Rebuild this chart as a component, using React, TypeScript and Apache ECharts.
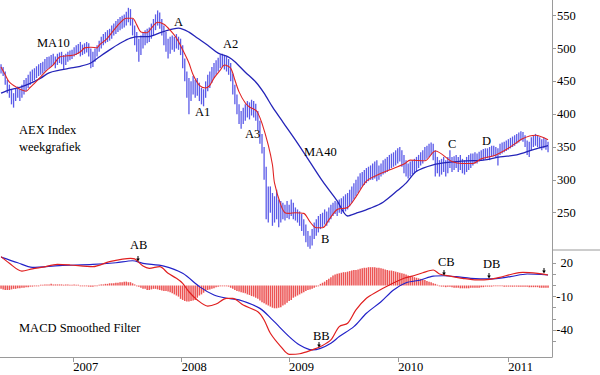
import React, { useEffect, useRef } from 'react';
import * as echarts from 'echarts';

// ---- x axis (weeks, index 0 = end of April 2006) ----
const yearTicks = [34.6, 86.5, 137.9, 190.3, 243.0];
const yearLabels = ['2007', '2008', '2009', '2010', '2011'];

// ---- y axis ticks ----
const priceTicks = [250, 300, 350, 400, 450, 500, 550];
const macdTicks = [20, 10, 0, -10, -20, -30, -40, -50];
const macdLabelTicks = [20, -10, -40];

// ---- weekly AEX bars (low / high) ----
const lows = [
  462, 458, 445, 432, 425, 415, 410, 420, 425, 420,
  425, 430, 435, 440, 445, 450, 452, 455, 458, 460,
  462, 465, 468, 470, 472, 475, 470, 475, 478, 476,
  468, 475, 480, 482, 484, 488, 490, 492, 488, 490,
  492, 494, 488, 470, 472, 480, 488, 495, 500, 505,
  508, 510, 512, 515, 520, 522, 525, 528, 530, 532,
  535, 540, 535, 520, 505, 495, 480, 490, 500, 505,
  508, 510, 515, 520, 528, 535, 530, 520, 505, 495,
  485, 492, 498, 495, 500, 498, 490, 470, 450, 425,
  400, 420, 430, 425, 428, 420, 415, 412, 425, 435,
  440, 448, 455, 460, 465, 470, 472, 468, 465, 460,
  450, 430, 415, 400, 385, 378, 385, 390, 395, 392,
  398, 395, 390, 375, 355, 340, 300, 240, 235, 250,
  230, 235, 240, 228, 235, 240, 238, 242, 240, 245,
  240, 238, 235, 230, 222, 215, 205, 198, 195, 200,
  210, 215, 220, 225, 228, 232, 230, 235, 240, 245,
  248, 245, 250, 248, 250, 252, 255, 260, 265, 270,
  275, 280, 285, 290, 292, 295, 298, 300, 300, 302,
  298, 300, 305, 308, 310, 312, 315, 318, 320, 322,
  325, 328, 320, 310, 305, 302, 305, 308, 310, 312,
  318, 322, 325, 330, 332, 335, 338, 330, 305, 310,
  305, 308, 312, 305, 310, 318, 312, 315, 318, 312,
  315, 310, 308, 312, 315, 318, 322, 325, 325, 328,
  330, 330, 332, 333, 330, 335, 336, 335, 322, 338,
  340, 342, 344, 346, 348, 350, 352, 355, 357, 360,
  358, 350, 338, 335, 345, 350, 352, 350, 348, 345,
  348, 346, 342,
];
const highs = [
  476, 472, 465, 452, 445, 438, 432, 440, 442, 438,
  445, 452, 455, 460, 465, 468, 470, 473, 476, 478,
  480, 484, 487, 488, 490, 492, 488, 492, 494, 495,
  490, 492, 495, 497, 498, 502, 505, 507, 510, 506,
  508, 510, 508, 500, 495, 500, 505, 512, 518, 522,
  525, 528, 530, 535, 538, 542, 545, 548, 550, 552,
  556, 562, 560, 545, 535, 525, 515, 520, 525, 528,
  530, 532, 538, 545, 552, 558, 555, 545, 535, 525,
  515, 518, 520, 518, 522, 518, 515, 505, 485, 465,
  455, 450, 458, 452, 455, 448, 440, 438, 450, 460,
  465, 472, 478, 482, 486, 490, 492, 490, 488, 484,
  478, 462, 445, 430, 415, 405, 410, 415, 420, 418,
  422, 420, 416, 405, 390, 370, 350, 320, 290, 290,
  280, 275, 285, 270, 268, 265, 262, 268, 262, 270,
  265, 258, 255, 252, 248, 240, 232, 222, 215, 225,
  235, 240, 245, 248, 250, 255, 252, 258, 262, 265,
  268, 266, 270, 272, 275, 278, 280, 285, 290, 295,
  300, 305, 310, 312, 315, 318, 320, 322, 325, 328,
  330, 322, 325, 330, 332, 335, 338, 340, 342, 345,
  348, 350, 345, 338, 330, 325, 328, 330, 332, 335,
  338, 342, 345, 350, 352, 355, 357, 355, 345, 335,
  330, 332, 335, 330, 335, 345, 335, 336, 338, 335,
  338, 332, 330, 335, 338, 340, 340, 342, 340, 343,
  345, 347, 348, 348, 350, 352, 352, 350, 348, 355,
  357, 358, 360, 362, 364, 366, 368, 370, 372, 374,
  373, 368, 360, 358, 365, 368, 370, 368, 365, 362,
  364, 362, 358,
];

// ---- moving averages: [week, value] ----
const ma10 = [
  [0, 472], [2, 460], [4, 449], [8, 440], [10, 437], [12, 435], [14, 441], [16, 447],
  [19, 457], [22, 467], [25, 475], [28, 487], [32, 489], [35, 490], [38, 495], [40, 501],
  [43, 502], [46, 501], [47, 505], [51, 516], [54, 528], [57, 539], [60, 546], [63, 546],
  [65, 536], [67, 525], [70, 524], [72, 531], [75, 540], [78, 537], [81, 528], [84, 516],
  [87, 498], [90, 478], [92, 460], [95, 444], [98, 440], [100, 444], [102, 455], [105, 467],
  [107, 475], [110, 470], [112, 452], [114, 434], [117, 417], [119, 411], [122, 406], [123, 402],
  [125, 386], [128, 353], [130, 323], [131, 295], [134, 262], [136, 250], [138, 249], [141, 250],
  [145, 249], [148, 236], [151, 227], [154, 227], [157, 239], [161, 255], [166, 258], [170, 274],
  [175, 298], [180, 307], [186, 315], [193, 324], [196, 330], [203, 329], [208, 344], [216, 328],
  [221, 325], [226, 325], [230, 332], [237, 338], [243, 348], [250, 363], [256, 368], [262, 361],
];
const ma40 = [
  [0, 432], [4, 437], [9, 441], [14, 447], [19, 455], [23, 463], [28, 467], [33, 470],
  [38, 473], [43, 478], [47, 487], [52, 498], [57, 508], [62, 516], [67, 518], [70, 518],
  [77, 525], [85, 531], [90, 525], [94, 516], [99, 505], [104, 493], [109, 487], [112, 480],
  [117, 464], [122, 449], [126, 432], [130, 411], [135, 388], [142, 356], [148, 327], [154, 298],
  [161, 268], [166, 245], [170, 249], [177, 257], [183, 266], [190, 284], [194, 295], [199, 313],
  [207, 323], [215, 327], [223, 329], [231, 330], [239, 335], [247, 338], [255, 346], [262, 352],
];

// ---- MACD smoothed filter ----
const macdLine = [
  [0, 26], [4, 20], [10, 13], [15, 15], [20, 16.6], [27, 19], [33, 18.5], [44, 17],
  [52, 21.5], [62, 24.5], [64, 24], [68, 17.5], [71, 15.5], [76, 17], [80, 11], [84, 6.5],
  [87, 2], [90, -5.6], [94, -13], [99, -18.5], [103, -16.7], [108, -11.5], [111, -11.5], [116, -17.6],
  [123, -23.6], [126, -31], [129, -43], [134, -55], [138, -62], [143, -61.5], [149, -58], [153, -55],
  [158, -49], [162, -37], [166, -34], [170, -22], [175, -11.5], [180, -5.6], [186, 0.5], [193, 6.5],
  [197, 8.5], [202, 11.5], [207, 14], [210, 10.4], [215, 8.5], [221, 6.5], [228, 5], [234, 5.5],
  [239, 7.4], [245, 10.4], [250, 11.9], [257, 11], [262, 9.5],
];
const signalLine = [
  [0, 25.6], [8, 20.5], [15, 16.4], [28, 18], [44, 19], [55, 20.5], [63, 22.3], [68, 20],
  [78, 17.5], [87, 11], [95, -1], [102, -8.6], [108, -11.5], [114, -13], [124, -20.6], [130, -31],
  [138, -46], [143, -53.6], [149, -58], [153, -56.6], [158, -52], [162, -46], [169, -37], [175, -25],
  [182, -14.6], [188, -4], [194, 2.5], [201, 5], [207, 8.5], [212, 8.8], [218, 8], [225, 6.5],
  [234, 5.9], [244, 8], [252, 10.4], [262, 9.5],
];
const histogram = [
  -3, -3.5, -4, -4, -4, -3.5, -3, -3, -2.5, -2.5,
  -2, -2, -1.5, -1.5, -1, -1, -0.5, -0.5, 0, 0.5,
  0.5, 1, 1, 1, 1.5, 1, 1, 1, 1, 1,
  0.5, 1, 1, 0.5, 0.5, 1, 0.5, 0.5, 0, 0,
  0, -0.5, -1, -1, -1, -0.5, 0, 0.5, 1, 1,
  1.5, 1.5, 2, 2, 2, 2.5, 2.5, 3, 3, 3.5,
  3.5, 3, 3, 2, 1, 0, -1, -2, -3, -3,
  -4, -4, -3.5, -3, -3, -3.5, -4, -4.5, -5, -5,
  -5.5, -6, -7, -8, -9, -10, -12, -13, -14, -14.5,
  -14.5, -14, -13.5, -13, -11, -9, -8, -6.5, -5, -4,
  -3.5, -3, -2.5, -1.5, -1, -0.5, 0, 0, -0.5, -1,
  -2, -3, -4, -5, -5.5, -6, -6.5, -7, -8, -8.5,
  -9.5, -10, -11, -12, -13.5, -15, -16, -17, -18, -19,
  -20, -20.5, -20.5, -20, -19.5, -18, -17, -15.5, -14, -13,
  -11, -10, -9, -8, -7, -6, -5, -4, -3.5, -3,
  -2, -1, 0, 1.5, 2.5, 3.5, 5, 6, 7.5, 9,
  10, 10.5, 11, 11.5, 12, 12, 12.5, 13, 13.5, 14,
  14, 14.5, 15, 15.5, 16, 16, 16.5, 16.5, 16.5, 16.5,
  16, 16, 15.5, 15, 14.5, 14, 13.5, 13.5, 13, 12.5,
  12, 11.5, 11, 10.5, 10, 9, 8.5, 8, 7.5, 7,
  6.5, 6, 5.5, 5, 4, 3.5, 3, 2, 1.5, 0.5,
  -0.5, -1, -1, -1.5, -1, -1, -1.5, -2, -2, -2,
  -2.5, -2.5, -2.5, -2.5, -2.5, -2, -2, -2, -2, -2,
  -1.5, -1.5, -1, -1, -1, -1, -0.5, -0.5, -0.5, -0.5,
  -0.5, -1, -1, -1, -1, -1, -1, -1, -1, -1,
  -1, -1, -1, -1.5, -1.5, -1.5, -1.5, -1.5, -2, -2,
  -2, -2, -2,
];

// ---- annotations ----
const notes = [
  { t: 'MA10', x: 37, y: 43 },
  { t: 'A', x: 174, y: 22 },
  { t: 'A2', x: 223, y: 44 },
  { t: 'A1', x: 195, y: 112 },
  { t: 'A3', x: 245, y: 134 },
  { t: 'AEX Index', x: 19, y: 130 },
  { t: 'weekgrafiek', x: 19, y: 147 },
  { t: 'MA40', x: 304, y: 152 },
  { t: 'B', x: 321, y: 239 },
  { t: 'C', x: 448, y: 144 },
  { t: 'D', x: 482, y: 141 },
  { t: 'AB', x: 130, y: 245 },
  { t: 'BB', x: 313, y: 336 },
  { t: 'CB', x: 438, y: 262 },
  { t: 'DB', x: 483, y: 264 },
  { t: 'MACD Smoothed Filter', x: 19, y: 328 },
];
const arrows = [
  { x: 138, y: 256 },
  { x: 319, y: 342 },
  { x: 444, y: 270 },
  { x: 489, y: 273 },
  { x: 544, y: 268 },
];

const FONT = 'Liberation Serif, Times New Roman, serif';
const AXIS = '#9a9a9a';
const XMIN = -0.5;
const XMAX = 263.9;

export default function App() {
  const ref = useRef<HTMLDivElement>(null);
  useEffect(() => {
    if (!ref.current) return;
    const chart = echarts.init(ref.current, null, { renderer: 'svg' });

    const graphics: any[] = [
      { type: 'line', shape: { x1: 552, y1: 250, x2: 600, y2: 250 }, style: { stroke: AXIS, lineWidth: 1 } },
    ];
    notes.forEach((n) => {
      graphics.push({
        type: 'text',
        x: n.x,
        y: n.y,
        style: { text: n.t, fill: '#000', fontSize: 12.5, fontFamily: FONT, textVerticalAlign: 'middle', textAlign: 'left' },
        z: 100,
      });
    });
    arrows.forEach((a) => {
      graphics.push({ type: 'line', shape: { x1: a.x, y1: a.y, x2: a.x, y2: a.y + 3 }, style: { stroke: '#000', lineWidth: 1 }, z: 100 });
      graphics.push({
        type: 'polygon',
        shape: { points: [[a.x - 1.8, a.y + 2.5], [a.x + 1.8, a.y + 2.5], [a.x, a.y + 5.5]] },
        style: { fill: '#000' },
        z: 100,
      });
    });

    const option: any = {
      animation: false,
      backgroundColor: '#fff',
      textStyle: { fontFamily: FONT },
      grid: [
        { left: 0, top: 0, width: 552, height: 250 },
        { left: 0, top: 250, width: 552, height: 107 },
      ],
      xAxis: [
        { gridIndex: 0, type: 'value', min: XMIN, max: XMAX, show: false },
        {
          gridIndex: 1,
          type: 'value',
          min: XMIN,
          max: XMAX,
          axisLine: { show: true, onZero: false, lineStyle: { color: AXIS, width: 1 } },
          axisTick: { show: true, customValues: yearTicks, length: 5, lineStyle: { color: AXIS } },
          axisLabel: {
            customValues: yearTicks,
            formatter: (v: number) => {
              let best = 0;
              yearTicks.forEach((t, k) => {
                if (Math.abs(t - v) < Math.abs(yearTicks[best] - v)) best = k;
              });
              return yearLabels[best];
            },
            align: 'left',
            margin: 3,
            color: '#000',
            fontSize: 12.5,
            fontFamily: FONT,
          },
          splitLine: { show: false },
        },
      ],
      yAxis: [
        {
          gridIndex: 0,
          type: 'value',
          position: 'right',
          min: 193.2,
          max: 573.9,
          axisLine: { show: true, onZero: false, lineStyle: { color: AXIS, width: 1 } },
          axisTick: { show: true, customValues: priceTicks, length: 4, lineStyle: { color: AXIS } },
          axisLabel: { customValues: priceTicks, margin: 5, color: '#000', fontSize: 12.5, fontFamily: FONT },
          splitLine: { show: false },
        },
        {
          gridIndex: 1,
          type: 'value',
          position: 'right',
          min: -64.4,
          max: 32,
          axisLine: { show: true, onZero: false, lineStyle: { color: AXIS, width: 1 } },
          axisTick: { show: true, customValues: macdTicks, length: 4, lineStyle: { color: AXIS } },
          axisLabel: { customValues: macdLabelTicks, margin: 21, align: 'right', color: '#000', fontSize: 12.5, fontFamily: FONT },
          splitLine: { show: false },
        },
      ],
      series: [
        {
          type: 'custom',
          xAxisIndex: 0,
          yAxisIndex: 0,
          clip: true,
          data: lows.map((l, i) => [i, l, highs[i]]),
          encode: { x: 0, y: [1, 2] },
          renderItem: (_p: any, api: any) => {
            const lo = api.coord([api.value(0), api.value(1)]);
            const hi = api.coord([api.value(0), api.value(2)]);
            return {
              type: 'line',
              shape: { x1: lo[0], y1: lo[1], x2: hi[0], y2: hi[1] },
              style: { stroke: '#5b5be8', lineWidth: 1.3 },
            };
          },
          z: 2,
        },
        {
          type: 'line',
          xAxisIndex: 0,
          yAxisIndex: 0,
          data: ma40,
          symbol: 'none',
          smooth: 0.3,
          lineStyle: { color: '#2424b8', width: 1.3 },
          z: 3,
        },
        {
          type: 'line',
          xAxisIndex: 0,
          yAxisIndex: 0,
          data: ma10,
          symbol: 'none',
          smooth: 0.3,
          lineStyle: { color: '#e02424', width: 1.1 },
          z: 4,
        },
        {
          type: 'custom',
          xAxisIndex: 1,
          yAxisIndex: 1,
          clip: true,
          data: histogram.map((v, i) => [i, v]),
          encode: { x: 0, y: 1 },
          renderItem: (_p: any, api: any) => {
            const top = api.coord([api.value(0), api.value(1)]);
            const base = api.coord([api.value(0), 0]);
            const h = top[1] - base[1];
            return {
              type: 'rect',
              shape: { x: top[0] - 0.75, y: base[1], width: 1.5, height: Math.abs(h) < 0.8 ? (h < 0 ? -0.8 : 0.8) : h },
              style: { fill: '#ec5454' },
            };
          },
          z: 2,
        },
        {
          type: 'line',
          xAxisIndex: 1,
          yAxisIndex: 1,
          data: signalLine,
          symbol: 'none',
          smooth: 0.3,
          lineStyle: { color: '#2222c8', width: 1.2 },
          z: 3,
        },
        {
          type: 'line',
          xAxisIndex: 1,
          yAxisIndex: 1,
          data: macdLine,
          symbol: 'none',
          smooth: 0.3,
          lineStyle: { color: '#e02020', width: 1.2 },
          z: 4,
        },
      ],
      graphic: graphics,
    };
    chart.setOption(option);
    return () => chart.dispose();
  }, []);
  return (
    <div
      ref={ref}
      style={{ position: 'fixed', left: 0, top: 0, width: 600, height: 375, background: '#fff' }}
    />
  );
}
